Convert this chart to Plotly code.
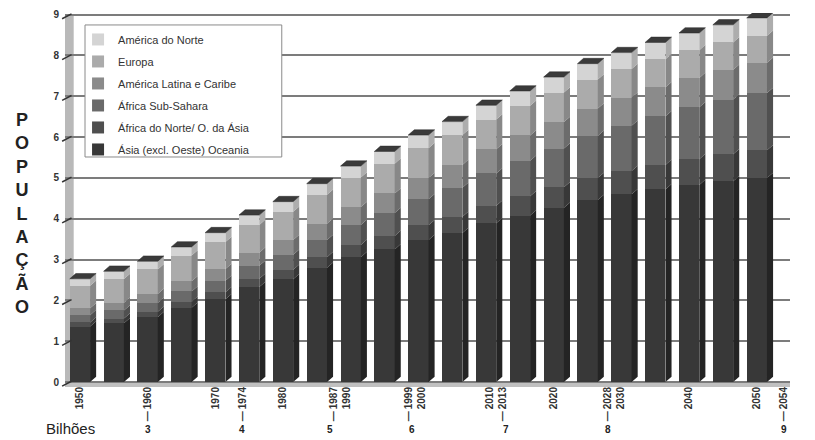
import plotly.graph_objects as go

# ---------------- data (billions) ----------------
years = [1950, 1955, 1960, 1965, 1970, 1975, 1980, 1985, 1990, 1995, 2000,
         2005, 2010, 2015, 2020, 2025, 2030, 2035, 2040, 2045, 2050]
asia_oceania = [1.36, 1.44, 1.59, 1.82, 2.03, 2.33, 2.52, 2.80, 3.06, 3.25, 3.48,
                3.65, 3.89, 4.08, 4.27, 4.46, 4.60, 4.72, 4.83, 4.92, 5.00]
africa_norte = [0.10, 0.115, 0.13, 0.15, 0.17, 0.20, 0.23, 0.26, 0.30, 0.33, 0.36,
                0.40, 0.43, 0.47, 0.50, 0.54, 0.57, 0.60, 0.63, 0.66, 0.68]
africa_sub = [0.18, 0.20, 0.22, 0.25, 0.28, 0.32, 0.37, 0.42, 0.49, 0.56, 0.64,
              0.71, 0.79, 0.87, 0.95, 1.03, 1.11, 1.19, 1.27, 1.34, 1.40]
america_latina = [0.17, 0.19, 0.22, 0.25, 0.29, 0.32, 0.36, 0.40, 0.44, 0.48, 0.52,
                  0.56, 0.59, 0.62, 0.65, 0.67, 0.69, 0.71, 0.72, 0.73, 0.74]
europa = [0.55, 0.58, 0.60, 0.63, 0.66, 0.68, 0.69, 0.71, 0.72, 0.73, 0.73,
          0.73, 0.73, 0.73, 0.72, 0.71, 0.70, 0.69, 0.68, 0.67, 0.66]
america_norte = [0.17, 0.19, 0.20, 0.21, 0.23, 0.24, 0.25, 0.27, 0.28, 0.30, 0.32,
                 0.33, 0.35, 0.36, 0.38, 0.39, 0.40, 0.41, 0.42, 0.43, 0.44]

series_names = ["Ásia (excl. Oeste) Oceania", "África do Norte/ O. da Ásia",
                "África Sub-Sahara", "América Latina e Caribe", "Europa",
                "América do Norte"]
series_values = [asia_oceania, africa_norte, africa_sub, america_latina, europa,
                 america_norte]

tick_years = [1950, 1960, 1970, 1974, 1980, 1987, 1990, 1999, 2000, 2010, 2013,
              2020, 2028, 2030, 2040, 2050, 2054]
milestone_years = [1960, 1974, 1987, 1999, 2013, 2028, 2054]
milestone_billions = [3, 4, 5, 6, 7, 8, 9]
y_ticks = [0, 1, 2, 3, 4, 5, 6, 7, 8, 9]

# ---------------- style ----------------
front_colors = ["#383838", "#4f4f4f", "#6a6a6a", "#8b8b8b", "#ababab", "#d4d4d4"]
side_colors = ["#242424", "#383838", "#505050", "#6c6c6c", "#888888", "#adadad"]
top_color = "#3a3a3a"
BAR_W = 3.0
DX = 0.9
DY = 0.13
X_RANGE = [1947.8, 2054.9]
Y_RANGE = [-0.12, 9.04]

fig = go.Figure()

# stacked front faces
n = len(series_names)
for k, (name, vals, col) in enumerate(zip(series_names, series_values, front_colors)):
    fig.add_trace(go.Bar(x=years, y=vals, name=name, width=BAR_W,
                         marker=dict(color=col, line=dict(width=0)),
                         legendgroup=name, legendrank=100 + (n - k),
                         hoverinfo="skip"))

# side faces (3D effect), computed from the data
base = [0.0] * len(years)
for vals, col in zip(series_values, side_colors):
    xs, ys = [], []
    for i, yr in enumerate(years):
        b = base[i]
        t = b + vals[i]
        xr = yr + BAR_W / 2
        xs += [xr, xr + DX, xr + DX, xr, xr, None]
        ys += [b, b + DY, t + DY, t, b, None]
        base[i] = t
    fig.add_trace(go.Scatter(x=xs, y=ys, mode="lines", fill="toself",
                             fillcolor=col, line=dict(width=0, color=col),
                             showlegend=False, hoverinfo="skip"))

# top faces
xs, ys = [], []
for i, yr in enumerate(years):
    t = base[i]
    xl = yr - BAR_W / 2
    xr = yr + BAR_W / 2
    xs += [xl, xr, xr + DX, xl + DX, xl, None]
    ys += [t, t, t + DY, t + DY, t, None]
fig.add_trace(go.Scatter(x=xs, y=ys, mode="lines", fill="toself",
                         fillcolor=top_color, line=dict(width=0.5, color="#2a2a2a"),
                         showlegend=False, hoverinfo="skip"))

# tick labels: close years share one tick (drawn side by side)
def label(y):
    return ("—\u2009" + str(y)) if y in milestone_years else str(y)

tickvals, ticktext = [], []
i = 0
while i < len(tick_years):
    y = tick_years[i]
    if i + 1 < len(tick_years) and tick_years[i + 1] - y <= 3:
        y2 = tick_years[i + 1]
        tickvals.append((y + y2) / 2)
        ticktext.append(label(y) + "<br>" + label(y2))
        i += 2
    else:
        tickvals.append(y)
        ticktext.append(label(y))
        i += 1

shapes = [
    # floor
    dict(type="rect", xref="paper", yref="y", x0=0, x1=1, y0=Y_RANGE[0], y1=0,
         fillcolor="#c0c0c0", line=dict(width=0), layer="below"),
    # left wall
    dict(type="rect", xref="paper", yref="y", x0=0, x1=0.012, y0=0, y1=9,
         fillcolor="#b9b9b9", line=dict(width=0), layer="below"),
    # legend box
    dict(type="rect", xref="paper", yref="paper", x0=0.0276, x1=0.299,
         y0=0.615, y1=0.968, fillcolor="white",
         line=dict(color="#8a8a8a", width=1), layer="above"),
]
# slanted tick marks on the wall
for v in y_ticks:
    shapes.append(dict(type="line", xref="paper", yref="y", x0=-0.004, x1=0.009,
                       y0=v - 0.1, y1=v + 0.02, line=dict(color="#333", width=1.5)))

annotations = [
    dict(text="P<br>O<br>P<br>U<br>L<br>A<br>Ç<br>Ã<br>O", xref="paper", yref="paper",
         x=-0.059, y=0.465, xanchor="center", yanchor="middle", showarrow=False,
         font=dict(family="Liberation Sans", size=18, color="#222", weight="bold"),
         align="center"),
    dict(text="Bilhões", xref="paper", yref="paper", x=0.007, y=-0.11,
         xanchor="center", yanchor="middle", showarrow=False,
         font=dict(family="Liberation Sans", size=15, color="#222")),
]
for yr, b in zip(milestone_years, milestone_billions):
    annotations.append(dict(text=str(b), xref="x", yref="paper", x=yr, y=-0.114,
                            xanchor="center", yanchor="middle", showarrow=False,
                            font=dict(family="Liberation Sans", size=10, color="#222",
                                      weight="bold")))

# the page body has an 8px default margin: size the figure so the plot lands
# where the reference has it
fig.update_layout(
    width=807, height=432,
    margin=dict(l=57, r=25, t=5, b=53),
    barmode="stack",
    paper_bgcolor="white", plot_bgcolor="white",
    font=dict(family="Liberation Sans", color="#333"),
    showlegend=True,
    legend=dict(x=0.018, y=0.968, xanchor="left", yanchor="top",
                traceorder="grouped", tracegroupgap=3,
                bgcolor="rgba(0,0,0,0)", borderwidth=0,
                font=dict(family="Liberation Sans", size=11, color="#333"),
                itemclick=False, itemdoubleclick=False),
    xaxis=dict(range=X_RANGE, tickmode="array", tickvals=tickvals,
               ticktext=ticktext, tickangle=-90, showgrid=False, zeroline=False,
               showline=False, ticks="", automargin=False, ticklabelstandoff=-3,
               tickfont=dict(family="Liberation Sans", size=10, color="#333",
                             weight="bold")),
    yaxis=dict(range=Y_RANGE, tickmode="array", tickvals=y_ticks, showgrid=True,
               gridcolor="#7c7c7c", gridwidth=1.5, zeroline=False, showline=False,
               ticks="", ticklabelstandoff=5, automargin=False,
               tickfont=dict(family="Liberation Sans", size=10, color="#333",
                             weight="bold")),
    shapes=shapes,
    annotations=annotations,
    bargap=0,
)

fig.write_html("out.html")
